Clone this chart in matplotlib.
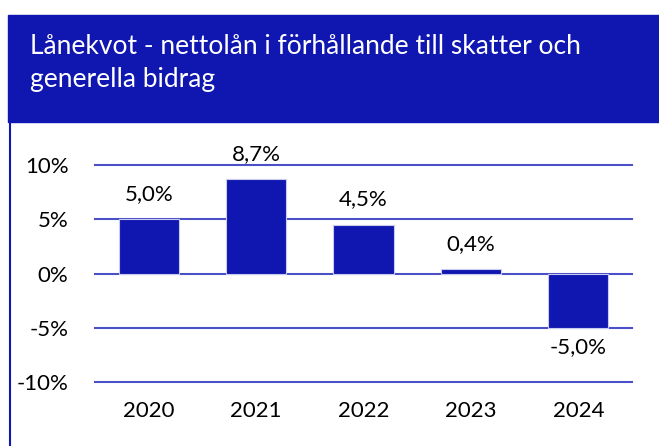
import matplotlib.pyplot as plt
from matplotlib.patches import Rectangle
from matplotlib.lines import Line2D

years = ["2020", "2021", "2022", "2023", "2024"]
lanekvot = [5.0, 8.7, 4.5, 0.4, -5.0]
yticks = [-10, -5, 0, 5, 10]

blue = "#1016B0"
grid_blue = "#4A50C8"
plt.rcParams["font.family"] = ["Lato", "DejaVu Sans"]

fig = plt.figure(figsize=(6.59, 4.46), dpi=100)

# titelruta
fig.patches.append(Rectangle((8 / 659, 1 - 122 / 446), 1, 107 / 446,
                             transform=fig.transFigure, color=blue, zorder=0))
fig.lines.append(Line2D([10 / 659, 10 / 659], [0, 1 - 122 / 446],
                        transform=fig.transFigure, color=blue, lw=1.5))
fig.text(30 / 659, 1 - 46 / 446, "Lånekvot - nettolån i förhållande till skatter och",
         color="white", fontsize=19, va="center")
fig.text(30 / 659, 1 - 80 / 446, "generella bidrag",
         color="white", fontsize=19, va="center")

ax = fig.add_axes([95 / 659, 1 - 382 / 446, 537 / 659, 217 / 446])
x = range(len(years))
ax.bar(x, lanekvot, width=0.56, color=blue, edgecolor="#c8caf0", lw=0.8, zorder=3)
ax.set_ylim(-10, 10)
ax.set_xlim(-0.5, len(years) - 0.5)
ax.set_yticks(yticks)
ax.set_yticklabels([f"{t}%" for t in yticks])
ax.set_xticks(list(x))
ax.set_xticklabels(years)
ax.tick_params(length=0, labelsize=16)
ax.tick_params(axis="y", pad=19)
ax.tick_params(axis="x", pad=14)
for t in yticks:
    ax.axhline(t, color=grid_blue, lw=1.5, zorder=2, clip_on=False)
for s in ax.spines.values():
    s.set_visible(False)

for i, v in enumerate(lanekvot):
    txt = f"{v:.1f}%".replace(".", ",")
    if v >= 0:
        ax.annotate(txt, (i, v), xytext=(0, 11), textcoords="offset points",
                    ha="center", va="bottom", fontsize=16, clip_on=False)
    else:
        ax.annotate(txt, (i, v), xytext=(0, -7), textcoords="offset points",
                    ha="center", va="top", fontsize=16)

fig.savefig("out.png", dpi=100)
